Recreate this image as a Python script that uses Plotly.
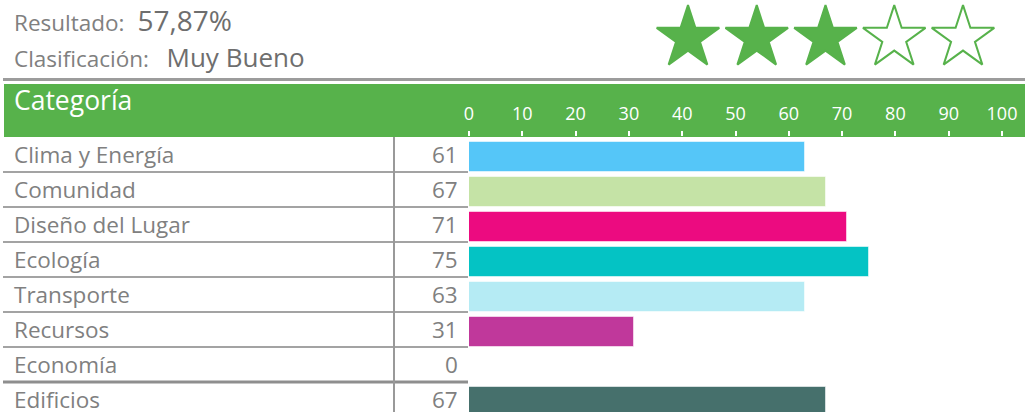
import plotly.graph_objects as go

# ---------------- data ----------------
categories = ["Clima y Energía", "Comunidad", "Diseño del Lugar", "Ecología",
              "Transporte", "Recursos", "Economía", "Edificios"]
score_labels = [61, 67, 71, 75, 63, 31, 0, 67]
bar_values = [63, 67, 71, 75, 63, 31, 0, 67]
bar_colors = ["#55c6f8", "#c5e3a6", "#ec0b80", "#04c3c4",
              "#b5ebf4", "#c0389b", "#cccccc", "#46706c"]
tick_values = list(range(0, 101, 10))
header_label = "Categoría"
result_label = "Resultado:"
result_value = "57,87%"
class_label = "Clasificación:"
class_value = "Muy Bueno"
stars_total = 5
stars_filled = 3

# ---------------- styling / layout constants ----------------
W, H = 1025, 412
GREEN = "#57b24b"
GRAY_TEXT = "#808080"
LINE = "#a3a3a3"
FONT = "Open Sans"

X0_PX, X100_PX = 469, 1002
HEADER_TOP, HEADER_BOTTOM = 84, 137
ROW_H = 35
STAR_X0_PX, STAR_DX_PX, STAR_Y_PX = 688, 68.75, 38


def py(px):
    return 1 - px / H


def px_x(px):
    return px / W


n = len(categories)
rows_visible = (H - HEADER_BOTTOM) / ROW_H
idx = list(range(n))

fig = go.Figure()

# bars
fig.add_trace(go.Bar(
    orientation="h", x=bar_values, y=idx, width=0.866, offset=-0.366,
    marker=dict(color=bar_colors, line=dict(color="rgba(255,255,255,0.55)", width=1)),
    hoverinfo="skip", xaxis="x", yaxis="y", showlegend=False,
))

# rating stars
star_x = [i + 1 for i in range(stars_total)]
star_sym = ["star" if i < stars_filled else "star-open" for i in range(stars_total)]
fig.add_trace(go.Scatter(
    x=star_x, y=[0] * stars_total, mode="markers",
    marker=dict(symbol=star_sym, size=47, color=GREEN, line=dict(color=GREEN, width=2)),
    xaxis="x2", yaxis="y2", hoverinfo="skip", showlegend=False,
))

shapes = []
# top gray rule
shapes.append(dict(type="line", xref="paper", yref="paper",
                   x0=px_x(3), x1=1, y0=py(79.5), y1=py(79.5),
                   line=dict(color="#9c9c9c", width=3)))
# green header band
shapes.append(dict(type="rect", xref="paper", yref="paper", layer="below",
                   x0=px_x(4), x1=1, y0=py(HEADER_BOTTOM), y1=py(HEADER_TOP),
                   fillcolor=GREEN, line=dict(width=0)))
# row separators
for i in range(n - 1):
    last = (i == n - 2)
    shapes.append(dict(type="line", xref="paper", yref="y",
                       x0=px_x(3), x1=px_x(468), y0=i + 0.5, y1=i + 0.5,
                       line=dict(color="#8e8e8e" if last else LINE, width=3 if last else 2)))
# vertical separator
shapes.append(dict(type="line", xref="paper", yref="paper",
                   x0=px_x(394), x1=px_x(394), y0=0, y1=py(HEADER_BOTTOM),
                   line=dict(color="#999999", width=2)))

annotations = []
for i, (c, v) in enumerate(zip(categories, score_labels)):
    annotations.append(dict(x=px_x(12), y=i, xref="paper", yref="y",
                            text=c, showarrow=False, xanchor="left", yanchor="middle",
                            font=dict(family=FONT, size=22.5, color=GRAY_TEXT)))
    annotations.append(dict(x=px_x(459.5), y=i, xref="paper", yref="y",
                            text=str(v), showarrow=False, xanchor="right", yanchor="middle",
                            font=dict(family=FONT, size=22.5, color=GRAY_TEXT)))

annotations.append(dict(x=px_x(12), y=py(100), xref="paper", yref="paper",
                        text=header_label, showarrow=False, xanchor="left", yanchor="middle",
                        font=dict(family=FONT, size=26.5, color="white")))
annotations.append(dict(x=px_x(12), y=py(20), xref="paper", yref="paper",
                        text=f"{result_label}&nbsp;<span style='font-size:28px;fill:#6e6e6e'>&nbsp;{result_value}</span>",
                        showarrow=False, xanchor="left", yanchor="middle",
                        font=dict(family=FONT, size=22.5, color=GRAY_TEXT)))
annotations.append(dict(x=px_x(12), y=py(56.5), xref="paper", yref="paper",
                        text=f"{class_label}&nbsp;&nbsp;&nbsp;<span style='font-size:26px;fill:#6e6e6e'>{class_value}</span>",
                        showarrow=False, xanchor="left", yanchor="middle",
                        font=dict(family=FONT, size=22.5, color=GRAY_TEXT)))

# star axis ranges (map star index to pixel)
x2_min = 1 - STAR_X0_PX / STAR_DX_PX
x2_max = x2_min + W / STAR_DX_PX

fig.update_layout(
    width=W, height=H,
    margin=dict(l=0, r=0, t=0, b=0, autoexpand=False),
    paper_bgcolor="white", plot_bgcolor="rgba(0,0,0,0)",
    font=dict(family=FONT),
    bargap=0,
    xaxis=dict(domain=[px_x(X0_PX), px_x(X100_PX)], range=[0, 100], side="top",
               anchor="y", tickvals=tick_values, ticks="outside", ticklen=5,
               tickwidth=2, tickcolor="white", showgrid=False, zeroline=False,
               showline=False, ticklabelstandoff=4, automargin=False,
               tickfont=dict(family=FONT, size=18, color="white")),
    yaxis=dict(domain=[0, py(HEADER_BOTTOM)], range=[rows_visible - 0.5, -0.5],
               showticklabels=False, showgrid=False, zeroline=False, showline=False,
               ticks="", automargin=False),
    xaxis2=dict(domain=[0, 1], range=[x2_min, x2_max], visible=False, anchor="y2",
                automargin=False),
    yaxis2=dict(domain=[0, 1], range=[-(H - STAR_Y_PX), STAR_Y_PX], visible=False,
                anchor="x2", automargin=False),
    shapes=shapes,
    annotations=annotations,
)

fig.write_html(
    "out.html",
    config={"displayModeBar": False},
    post_script="document.body.style.margin='0';document.body.style.overflow='hidden';",
)
